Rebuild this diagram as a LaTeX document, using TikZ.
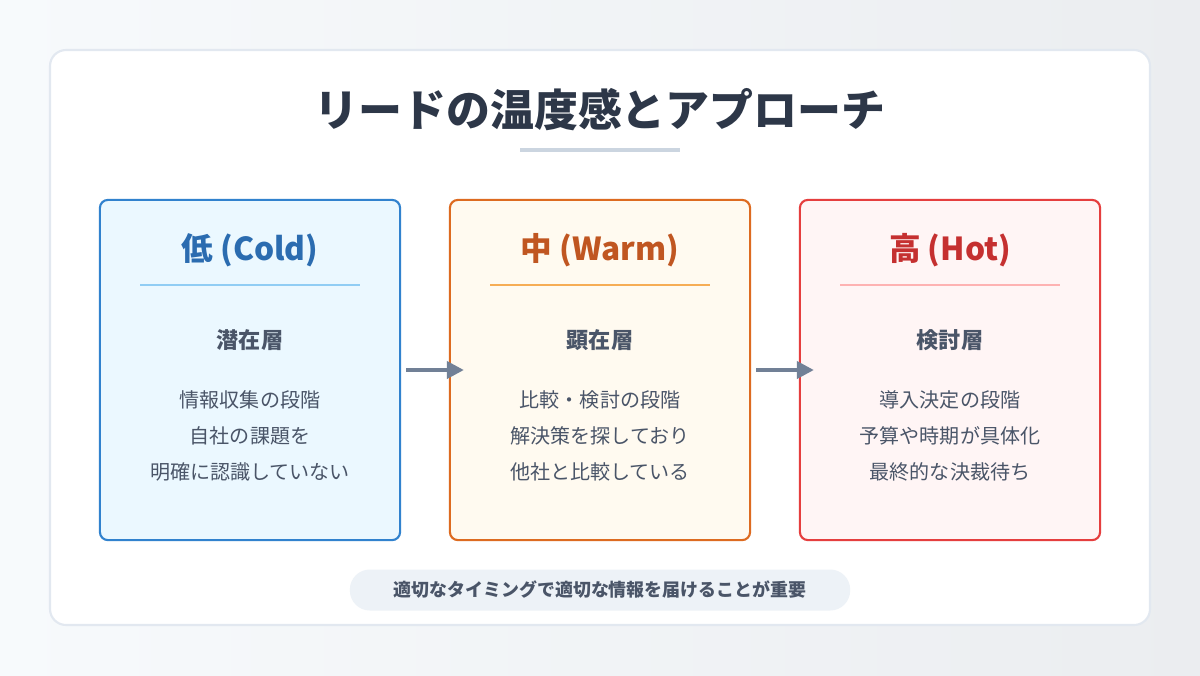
\documentclass[tikz,border=0pt]{standalone}
\usepackage{fontspec}
\setmainfont{Noto Sans CJK JP}
\usetikzlibrary{arrows.meta}
\definecolor{bgA}{HTML}{F7FAFC}
\definecolor{bgB}{HTML}{EBEDF0}
\definecolor{cardline}{HTML}{E2E8F0}
\definecolor{ruleC}{HTML}{CBD5E0}
\definecolor{titlec}{HTML}{2D3748}
\definecolor{subc}{HTML}{4A5568}
\definecolor{pillc}{HTML}{EDF2F7}
\definecolor{arrc}{HTML}{718096}
\definecolor{coldB}{HTML}{3182CE}\definecolor{coldF}{HTML}{EBF8FF}\definecolor{coldT}{HTML}{2B6CB0}\definecolor{coldL}{HTML}{90CDF4}
\definecolor{warmB}{HTML}{DD6B20}\definecolor{warmF}{HTML}{FFFAF0}\definecolor{warmT}{HTML}{C05621}\definecolor{warmL}{HTML}{F6AD55}
\definecolor{hotB}{HTML}{E53E3E}\definecolor{hotF}{HTML}{FFF5F5}\definecolor{hotT}{HTML}{C53030}\definecolor{hotL}{HTML}{FEB2B2}
\tikzset{
  box/.style={draw, line width=0.6pt, rounded corners=0.08cm, minimum width=3cm, minimum height=3.4cm, inner sep=0pt},
  head/.style={font=\fontsize{9}{11}\selectfont\bfseries},
  sub/.style={font=\fontsize{6.3}{8}\selectfont\bfseries, text=subc},
  body/.style={font=\fontsize{5.7}{10.2}\selectfont, text=subc, align=center},
  arr/.style={-{Triangle[length=0.17cm,width=0.17cm]}, draw=arrc, line width=1.1pt, shorten <=0.05cm, shorten >=-0.15cm},
}
\begin{document}
\begin{tikzpicture}[x=0.01cm, y=-0.01cm]
  \shade[left color=bgA, right color=bgB] (0,0) rectangle (1200,675);
  \useasboundingbox (0,0) rectangle (1200,675);

  \draw[cardline, fill=white, line width=0.6pt, rounded corners=0.16cm] (50,50) rectangle (1150,625);
  \node[font=\fontsize{12.5}{14}\selectfont\bfseries, text=titlec] (title) at (600,110) {リードの温度感とアプローチ};
  \draw[ruleC, line width=0.9pt] (520,150) -- (680,150);

  % Cold
  \node[box, draw=coldB, fill=coldF] (cold) at (250,370) {};
  \node[head, text=coldT] (coldh) at (250,250) {低 (Cold)};
  \draw[coldL, line width=0.6pt] (140,285) -- (360,285);
  \node[sub] (colds) at (250,340) {潜在層};
  \node[body] (coldb) at (250,436) {情報収集の段階\\自社の課題を\\明確に認識していない};

  % Warm
  \node[box, draw=warmB, fill=warmF] (warm) at (600,370) {};
  \node[head, text=warmT] (warmh) at (600,250) {中 (Warm)};
  \draw[warmL, line width=0.6pt] (490,285) -- (710,285);
  \node[sub] (warms) at (600,340) {顕在層};
  \node[body] (warmb) at (600,436) {比較・検討の段階\\解決策を探しており\\他社と比較している};

  % Hot
  \node[box, draw=hotB, fill=hotF] (hot) at (950,370) {};
  \node[head, text=hotT] (hoth) at (950,250) {高 (Hot)};
  \draw[hotL, line width=0.6pt] (840,285) -- (1060,285);
  \node[sub] (hots) at (950,340) {検討層};
  \node[body] (hotb) at (950,436) {導入決定の段階\\予算や時期が具体化\\最終的な決裁待ち};

  \draw[arr] (cold.east) -- (warm.west);
  \draw[arr] (warm.east) -- (hot.west);

  \node[fill=pillc, rounded corners=0.2cm, minimum width=5cm, minimum height=0.4cm, font=\fontsize{5.1}{6}\selectfont\bfseries, text=subc] (note) at (600,590) {適切なタイミングで適切な情報を届けることが重要};
\end{tikzpicture}
\end{document}
